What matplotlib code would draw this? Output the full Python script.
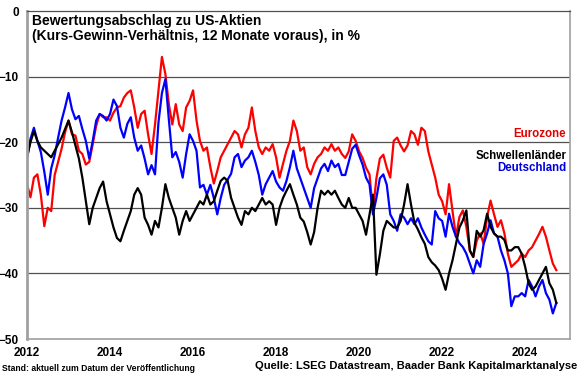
import numpy as np
import matplotlib
matplotlib.use('Agg')
import matplotlib.pyplot as plt

# monthly values, Jan 2012 .. Oct 2024 (discount vs US P/E, 12m forward, in %)
start_year = 2012
eurozone = [
    -26.4, -28.4, -25.4, -24.9, -28.0, -32.8, -30.0, -30.5, -25.0, -23.0, -21.0, -18.5,
    -16.7, -18.8, -19.0, -21.3, -21.8, -23.4, -23.0, -20.3, -17.5, -15.7, -16.2, -16.2,
    -16.7, -15.5, -14.7, -14.5, -13.2, -12.5, -12.1, -14.7, -17.8, -15.7, -15.2, -18.8,
    -21.8, -17.3, -12.1, -7.0, -9.6, -14.2, -17.3, -14.2, -17.3, -18.3, -14.7, -13.7,
    -12.1, -16.7, -19.8, -21.3, -20.8, -23.8, -26.3, -24.4, -22.3, -21.3, -20.3, -19.3,
    -18.3, -18.8, -20.8, -18.8, -17.8, -14.7, -18.3, -20.8, -21.8, -20.8, -21.3, -20.3,
    -22.3, -25.4, -23.3, -21.3, -19.8, -16.7, -18.3, -21.3, -20.8, -23.8, -24.9, -23.3,
    -22.3, -21.8, -20.8, -21.3, -20.3, -21.3, -20.8, -21.8, -22.4, -21.4, -18.8, -19.8,
    -21.4, -22.4, -23.9, -24.9, -30.5, -25.5, -22.5, -21.9, -23.9, -25.4, -19.8, -19.3,
    -20.5, -21.4, -20.5, -18.3, -18.8, -20.4, -17.8, -18.3, -21.4, -23.4, -25.4, -28.0,
    -29.0, -31.0, -26.4, -30.5, -34.4, -31.4, -30.4, -32.9, -36.5, -37.5, -35.0, -33.9,
    -35.5, -31.4, -28.9, -31.0, -32.9, -31.9, -33.9, -37.0, -39.0, -38.5, -38.0, -37.0,
    -37.5, -36.5, -36.0, -35.0, -34.0, -32.9, -34.4, -36.5, -38.5, -39.5,
]
deutschland = [
    -22.5, -19.5, -17.8, -19.8, -21.5, -24.5, -28.0, -24.0, -22.0, -19.3, -16.7, -14.7,
    -12.5, -15.0, -16.5, -16.0, -18.0, -19.8, -22.5, -19.8, -16.7, -15.7, -16.0, -16.7,
    -15.7, -13.5, -14.5, -17.8, -19.3, -17.2, -16.2, -19.3, -21.3, -20.5, -22.5, -24.9,
    -23.5, -24.9, -17.0, -12.5, -10.4, -16.5, -22.3, -21.5, -23.0, -25.4, -21.8, -18.8,
    -19.8, -21.3, -26.9, -26.5, -28.0, -26.5, -28.5, -31.0, -28.5, -26.5, -25.7, -24.8,
    -22.3, -21.8, -23.8, -22.8, -22.3, -21.3, -23.0, -25.0, -28.0, -26.4, -25.4, -24.4,
    -26.0, -26.9, -27.4, -25.9, -23.8, -21.3, -24.0, -25.5, -27.0, -28.5, -30.0, -27.0,
    -25.5, -24.0, -23.3, -24.4, -22.8, -23.8, -23.3, -25.0, -25.0, -23.0, -21.0, -20.4,
    -22.0, -23.4, -25.4, -26.4, -31.0, -28.5, -25.5, -24.9, -26.5, -31.0, -32.0, -33.5,
    -31.0, -31.5, -32.5, -31.6, -32.5, -31.6, -33.0, -34.1, -35.1, -35.6, -30.5, -31.6,
    -32.0, -34.4, -30.9, -32.9, -34.4, -35.4, -36.0, -37.0, -38.5, -40.0, -38.0, -39.0,
    -35.5, -33.9, -31.9, -33.9, -34.4, -36.5, -38.0, -40.0, -45.0, -43.5, -43.5, -43.0,
    -43.5, -41.0, -42.0, -43.5, -42.0, -41.0, -43.0, -44.0, -46.1, -44.5,
]
schwellenlaender = [
    -22.3, -20.0, -18.3, -19.8, -20.8, -21.3, -21.8, -22.3, -21.3, -20.3, -19.3, -18.0,
    -16.7, -18.5, -20.5, -22.5, -25.4, -29.0, -32.5, -30.0, -28.5, -27.0, -26.0, -29.0,
    -31.0, -33.0, -34.6, -35.1, -33.5, -32.0, -30.5, -28.0, -27.0, -28.0, -31.5, -32.6,
    -34.1, -32.0, -33.0, -30.0, -26.4, -28.5, -30.0, -31.5, -34.1, -32.0, -30.5, -32.0,
    -31.0, -30.0, -29.0, -29.5, -28.0, -29.5, -29.0, -27.4, -25.9, -25.4, -25.9, -28.5,
    -30.0, -31.5, -32.6, -30.5, -31.0, -30.0, -30.5, -29.5, -28.5, -29.5, -29.0, -29.5,
    -32.6, -30.0, -28.5, -27.4, -26.4, -28.0, -29.5, -31.5, -32.1, -33.7, -35.6, -33.7,
    -30.0, -27.4, -28.0, -27.4, -28.0, -27.4, -28.5, -29.5, -30.0, -28.5, -30.0, -30.0,
    -31.0, -32.0, -34.1, -31.0, -28.0, -40.2, -37.1, -33.5, -32.0, -32.5, -33.0, -33.0,
    -32.0, -29.5, -26.4, -29.5, -32.3, -33.3, -34.5, -35.5, -37.5, -38.3, -38.8, -39.5,
    -40.8, -42.5, -40.0, -38.0, -35.5, -33.0, -31.9, -30.4, -36.5, -37.5, -33.5, -34.4,
    -33.4, -30.9, -32.9, -33.9, -34.4, -34.4, -34.9, -36.5, -36.5, -36.0, -36.0, -37.0,
    -39.0, -41.5, -42.5, -42.0, -41.0, -40.0, -39.0, -41.5, -42.5, -44.5,
]

t = start_year + np.arange(len(eurozone)) / 12.0

fig = plt.figure(figsize=(5.8, 3.75), dpi=100)
ax = fig.add_axes([27/580, 36/375, 543/580, 328/375])

ax.plot(t, eurozone, color='#ff0000', lw=1.6)
ax.plot(t, deutschland, color='#0000ff', lw=1.6)
ax.plot(t, schwellenlaender, color='black', lw=1.6)

ax.set_xlim(2012, 2025.08)
ax.set_ylim(-50, 0)
ax.set_yticks(range(-50, 1, 10))
ax.set_xticks(range(2012, 2025, 2))
for y in range(-40, 0, 10):
    ax.axhline(y, color='#505050', lw=0.9, zorder=0)

for s in ax.spines.values():
    s.set_color('#a0a0a0')
    s.set_linewidth(1.2)
ax.spines['left'].set_linewidth(2)
ax.spines['top'].set_color('#505050')
ax.spines['top'].set_linewidth(0.9)

ax.tick_params(length=0, pad=6)
for lab in ax.get_xticklabels() + ax.get_yticklabels():
    lab.set_fontweight('bold')
    lab.set_fontsize(8.5)
    lab.set_family('Liberation Sans')

tf = dict(family='Liberation Sans', fontweight='bold')
fig.text(32/580, 1 - 25/375, 'Bewertungsabschlag zu US-Aktien', fontsize=10, **tf)
fig.text(32/580, 1 - 40/375, '(Kurs-Gewinn-Verhältnis, 12 Monate voraus), in %', fontsize=10, **tf)

fig.text(566/580, 1 - 137/375, 'Eurozone', color='#e00000', fontsize=8.3, ha='right', **tf)
fig.text(566/580, 1 - 159/375, 'Schwellenländer', color='black', fontsize=8.3, ha='right', **tf)
fig.text(566/580, 1 - 171/375, 'Deutschland', color='#0000e0', fontsize=8.3, ha='right', **tf)

fig.text(2/580, 1 - 371/375, 'Stand: aktuell zum Datum der Veröffentlichung', fontsize=6.2, **tf)
fig.text(577/580, 1 - 369/375, 'Quelle: LSEG Datastream, Baader Bank Kapitalmarktanalyse',
         fontsize=8, ha='right', **tf)

fig.savefig('out.png', dpi=100)
